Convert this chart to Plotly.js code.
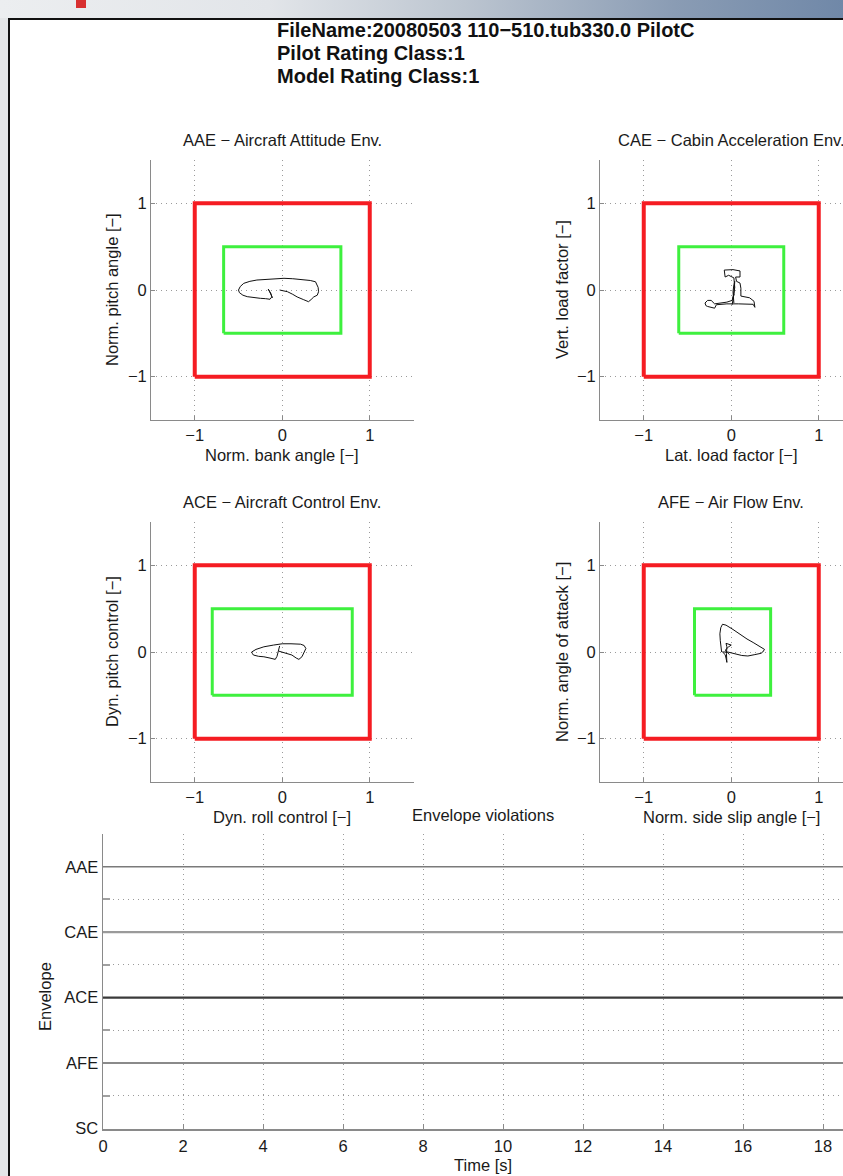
<!DOCTYPE html>
<html>
<head>
<meta charset="utf-8">
<script src="https://cdn.plot.ly/plotly-3.0.1.min.js"></script>
<style>
  html, body { margin: 0; padding: 0; background: #ffffff; overflow: hidden; width: 843px; height: 1176px; }
  #banner { position: absolute; left: 0; top: 0; width: 843px; height: 18px;
    background: linear-gradient(to right, #eceef0 0%, #e2e5e9 32%, #bcc5d0 55%, #8a9cb4 80%, #7088a8 100%); }
  #logo { position: absolute; left: 76px; top: 0; width: 10px; height: 8px; background: #d83030; }
  #leftstrip { position: absolute; left: 0; top: 18px; width: 8px; height: 1158px; background: #e4e6e8; }
  #frameTop { position: absolute; left: 8px; top: 18px; width: 835px; height: 2px; background: #111; }
  #frameLeft { position: absolute; left: 8px; top: 18px; width: 2px; height: 1158px; background: #111; }
  #plot { position: absolute; left: 0; top: 0; width: 910px; height: 1176px; }
</style>
</head>
<body>
<div id="plot"></div>
<div id="banner"></div>
<div id="logo"></div>
<div id="leftstrip"></div>
<div id="frameTop"></div>
<div id="frameLeft"></div>
<script>
// ---------------- DATA ----------------
const titleLines = ["FileName:20080503 110\u2212510.tub330.0 PilotC", "Pilot Rating Class:1", "Model Rating Class:1"];

const envNames = ["AAE \u2212 Aircraft Attitude Env.", "CAE \u2212 Cabin Acceleration Env.", "ACE \u2212 Aircraft Control Env.", "AFE \u2212 Air Flow Env."];
const envXLabels = ["Norm. bank angle [\u2212]", "Lat. load factor [\u2212]", "Dyn. roll control [\u2212]", "Norm. side slip angle [\u2212]"];
const envYLabels = ["Norm. pitch angle [\u2212]", "Vert. load factor [\u2212]", "Dyn. pitch control [\u2212]", "Norm. angle of attack [\u2212]"];

// red (outer) envelope limit, same for all
const redLimX = [-1, 1];
const redLimY = [-1, 1];
// green (inner) envelope limits per envelope
const greenAAEx = [-0.67, 0.67], greenAAEy = [-0.5, 0.5];
const greenCAEx = [-0.6, 0.6],   greenCAEy = [-0.5, 0.5];
const greenACEx = [-0.8, 0.8],   greenACEy = [-0.5, 0.5];
const greenAFEx = [-0.42, 0.45], greenAFEy = [-0.5, 0.5];

// trajectories
const aaeX = [-0.03, 0.02, 0.06, 0.12, 0.17, 0.24, 0.30, 0.33, 0.36, 0.40, 0.415, 0.41, 0.38, 0.32, 0.24, 0.12, 0.02, -0.10, -0.20, -0.29, -0.37, -0.44, -0.48, -0.50, -0.49, -0.45, -0.40, -0.33, -0.25, -0.19, -0.14, -0.12, -0.13, -0.16, -0.14, -0.12, -0.11];
const aaeY = [0.00, -0.01, -0.02, -0.05, -0.08, -0.11, -0.135, -0.11, -0.08, -0.06, -0.02, 0.03, 0.095, 0.11, 0.12, 0.13, 0.135, 0.13, 0.125, 0.115, 0.10, 0.077, 0.04, 0.00, -0.03, -0.06, -0.077, -0.088, -0.096, -0.10, -0.107, -0.08, -0.04, 0.01, -0.03, -0.06, -0.09];

const caeX = [0.03, 0.02, 0.03, 0.04, 0.03, 0.01, -0.05, -0.12, -0.19, -0.23, -0.27, -0.30, -0.29, -0.27, -0.22, -0.19, -0.17, -0.05, 0.08, 0.18, 0.25, 0.27, 0.26, 0.21, 0.16, 0.11, 0.11, 0.10, 0.06, 0.05, 0.10, 0.10, 0.02, -0.08, -0.07, -0.03, 0.03, 0.04, 0.02, 0.03, 0.01];
const caeY = [-0.15, -0.02, 0.06, 0.10, -0.05, -0.12, -0.14, -0.15, -0.16, -0.12, -0.12, -0.15, -0.18, -0.19, -0.20, -0.21, -0.17, -0.16, -0.16, -0.165, -0.165, -0.20, -0.13, -0.09, -0.08, -0.07, 0.02, 0.08, 0.10, 0.15, 0.15, 0.22, 0.235, 0.23, 0.15, 0.17, 0.14, 0.03, -0.10, -0.05, -0.17];

const aceX = [-0.04, 0.02, 0.07, 0.11, 0.16, 0.19, 0.225, 0.25, 0.27, 0.25, 0.21, 0.10, 0.00, -0.10, -0.21, -0.30, -0.35, -0.34, -0.33, -0.27, -0.21, -0.14, -0.08, -0.06, -0.05, -0.045, -0.03];
const aceY = [0.01, -0.01, -0.02, -0.035, -0.07, -0.085, -0.055, -0.01, 0.04, 0.075, 0.09, 0.095, 0.095, 0.08, 0.06, 0.03, 0.00, -0.02, -0.035, -0.05, -0.055, -0.07, -0.085, -0.05, -0.01, 0.02, 0.07];

const afeX = [-0.11, -0.12, -0.125, -0.13, -0.12, -0.10, -0.06, 0.02, 0.10, 0.18, 0.25, 0.32, 0.38, 0.36, 0.34, 0.27, 0.19, 0.12, 0.06, 0.00, -0.04, -0.10, -0.07, -0.06, -0.05, -0.055, -0.05, -0.06, -0.01, 0.00, -0.03, -0.07, -0.04, -0.02];
const afeY = [0.00, 0.06, 0.13, 0.21, 0.28, 0.32, 0.31, 0.26, 0.20, 0.15, 0.11, 0.07, 0.03, 0.00, -0.015, -0.03, -0.046, -0.04, -0.023, -0.01, 0.00, 0.00, -0.03, -0.07, -0.12, -0.02, 0.06, 0.10, 0.09, 0.08, 0.06, 0.02, -0.01, -0.03];

// envelope violations
const envCats = ["SC", "AFE", "ACE", "CAE", "AAE"];
const envCatVals = [0, 1, 2, 3, 4];
const envGridVals = [0.5, 1.5, 2.5, 3.5];
const timeS = [0, 19];
const violAAE = [4, 4];
const violCAE = [3, 3];
const violACE = [2, 2];
const violAFE = [1, 1];
const timeTicks = [0, 2, 4, 6, 8, 10, 12, 14, 16, 18];
const squareTicks = [-1, 0, 1];

// ---------------- LAYOUT HELPERS ----------------
const W = 910, H = 1176;
const FONT = "Liberation Sans, Arial, Helvetica, sans-serif";
const FS = 16.5;
const px = (a, b) => [a / W, b / W];
const py = (top, bot) => [1 - bot / H, 1 - top / H];
const rect = (lx, ly) => ({ x: [lx[0], lx[1], lx[1], lx[0], lx[0]], y: [ly[0], ly[0], ly[1], ly[1], ly[0]] });

const dotted = '1px,4px';
function sqAxis(domain, anchor) {
  return {
    domain: domain, anchor: anchor, range: [-1.5, 1.5], fixedrange: true,
    tickmode: 'array', tickvals: squareTicks,
    showline: true, linecolor: '#8a8a8a', linewidth: 1, mirror: false,
    ticks: 'inside', ticklen: 4, tickcolor: '#8a8a8a',
    showgrid: true, gridcolor: '#9a9a9a', gridwidth: 1, griddash: dotted,
    zeroline: false, tickfont: { family: FONT, size: FS, color: '#1a1a1a' }
  };
}

const boxes = [
  { xa: 'x',  ya: 'y',  gx: greenAAEx, gy: greenAAEy, tx: aaeX, ty: aaeY },
  { xa: 'x2', ya: 'y2', gx: greenCAEx, gy: greenCAEy, tx: caeX, ty: caeY },
  { xa: 'x3', ya: 'y3', gx: greenACEx, gy: greenACEy, tx: aceX, ty: aceY },
  { xa: 'x4', ya: 'y4', gx: greenAFEx, gy: greenAFEy, tx: afeX, ty: afeY }
];

const traces = [];
boxes.forEach(b => {
  const r = rect(redLimX, redLimY);
  traces.push({ x: r.x, y: r.y, xaxis: b.xa, yaxis: b.ya, mode: 'lines', line: { color: '#f51c22', width: 4 }, hoverinfo: 'skip' });
  const g = rect(b.gx, b.gy);
  traces.push({ x: g.x, y: g.y, xaxis: b.xa, yaxis: b.ya, mode: 'lines', line: { color: '#3ef03e', width: 3 }, hoverinfo: 'skip' });
  traces.push({ x: b.tx, y: b.ty, xaxis: b.xa, yaxis: b.ya, mode: 'lines', line: { color: '#111111', width: 1 }, hoverinfo: 'skip' });
});

traces.push({ x: timeS, y: violAAE, xaxis: 'x5', yaxis: 'y5', mode: 'lines', line: { color: '#7a7a7a', width: 1.6 }, hoverinfo: 'skip' });
traces.push({ x: timeS, y: violCAE, xaxis: 'x5', yaxis: 'y5', mode: 'lines', line: { color: '#9a9a9a', width: 2.4 }, hoverinfo: 'skip' });
traces.push({ x: timeS, y: violACE, xaxis: 'x5', yaxis: 'y5', mode: 'lines', line: { color: '#3a3a3a', width: 2.2 }, hoverinfo: 'skip' });
traces.push({ x: timeS, y: violAFE, xaxis: 'x5', yaxis: 'y5', mode: 'lines', line: { color: '#8a8a8a', width: 2 }, hoverinfo: 'skip' });
traces.push({ x: [null], y: [null], xaxis: 'x5', yaxis: 'y6', mode: 'markers', showlegend: false, hoverinfo: 'skip' });

function ann(text, x, y, opts) {
  return Object.assign({ text: text, xref: 'paper', yref: 'paper', x: x / W, y: 1 - y / H,
    xanchor: 'center', yanchor: 'middle', showarrow: false,
    font: { family: FONT, size: FS, color: '#1a1a1a' } }, opts || {});
}

const annotations = [];
titleLines.forEach((t, i) => annotations.push(ann('<b>' + t + '</b>', 275, 30 + i * 23, { xanchor: 'left', font: { family: FONT, size: 20, color: '#111' } })));
const centersX = [282, 731, 282, 731];
const axTop = [160, 160, 522, 522];
const ylabX = [112, 562, 112, 562];
for (let i = 0; i < 4; i++) {
  annotations.push(ann(envNames[i], centersX[i], axTop[i] - 20));
  annotations.push(ann(envXLabels[i], centersX[i], axTop[i] + 295));
  annotations.push(ann(envYLabels[i], ylabX[i], axTop[i] + 130, { textangle: -90 }));
}
annotations.push(ann('Envelope violations', 483, 815));
annotations.push(ann('Time [s]', 483, 1165));
annotations.push(ann('Envelope', 45, 997, { textangle: -90 }));

const layout = {
  width: W, height: H, margin: { l: 0, r: 0, t: 0, b: 0 },
  paper_bgcolor: '#ffffff', plot_bgcolor: '#ffffff', showlegend: false,
  font: { family: FONT, size: FS, color: '#1a1a1a' },
  xaxis:  sqAxis(px(151, 413.5), 'y'),
  yaxis:  sqAxis(py(160, 420), 'x'),
  xaxis2: sqAxis(px(600, 862.5), 'y2'),
  yaxis2: sqAxis(py(160, 420), 'x2'),
  xaxis3: sqAxis(px(151, 413.5), 'y3'),
  yaxis3: sqAxis(py(522, 782), 'x3'),
  xaxis4: sqAxis(px(600, 862.5), 'y4'),
  yaxis4: sqAxis(py(522, 782), 'x4'),
  xaxis5: {
    domain: px(103, 863), anchor: 'y5', range: [0, 19], fixedrange: true,
    tickmode: 'array', tickvals: timeTicks,
    showline: true, linecolor: '#8a8a8a', linewidth: 2,
    ticks: 'inside', ticklen: 5, tickcolor: '#8a8a8a',
    showgrid: true, gridcolor: '#9a9a9a', griddash: dotted, zeroline: false,
    tickfont: { family: FONT, size: FS, color: '#1a1a1a' }, ticklabelstandoff: 2
  },
  yaxis5: {
    domain: py(834, 1128.5), anchor: 'x5', range: [0, 4.5], fixedrange: true,
    tickmode: 'array', tickvals: envCatVals, ticktext: envCats,
    showline: true, linecolor: '#8a8a8a', linewidth: 1.5,
    ticks: '', showgrid: false, zeroline: false,
    tickfont: { family: FONT, size: FS, color: '#1a1a1a' }
  },
  yaxis6: {
    overlaying: 'y5', anchor: 'x5', side: 'left', range: [0, 4.5], fixedrange: true,
    tickmode: 'array', tickvals: envGridVals, showticklabels: false,
    ticks: 'inside', ticklen: 7, tickwidth: 2, tickcolor: '#a0a0a0',
    showgrid: true, gridcolor: '#9a9a9a', griddash: dotted, zeroline: false, showline: false
  },
  annotations: annotations
};

Plotly.newPlot('plot', traces, layout, { staticPlot: true, displayModeBar: false });
</script>
</body>
</html>
